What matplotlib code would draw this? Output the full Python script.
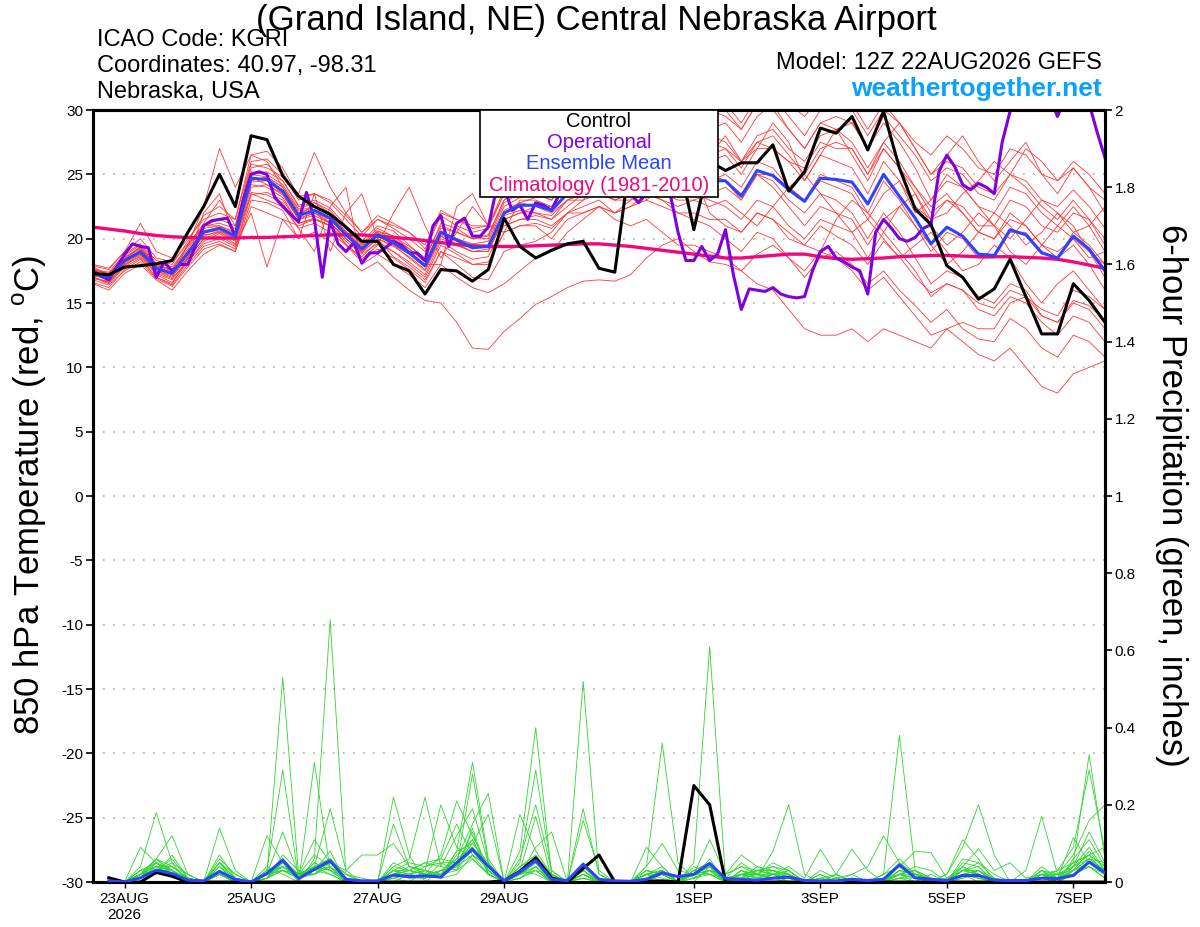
import numpy as np
import matplotlib
matplotlib.use('Agg')
import matplotlib.pyplot as plt
from matplotlib.patches import Rectangle

plt.rcParams['font.family'] = ['Liberation Sans', 'DejaVu Sans']
plt.rcParams['mathtext.fontset'] = 'custom'
plt.rcParams['mathtext.rm'] = 'Liberation Sans'
plt.rcParams['axes.unicode_minus'] = False

# ---------------- data (850 hPa temperature, 6-hourly from 12Z 22AUG) ----------------
control_t = [17.3, 17.2, 17.8, 17.9, 18.05, 18.3, 20.5, 22.5, 25.0, 22.5,
             28.0, 27.7, 24.9, 23.3, 22.5, 21.9, 20.9, 19.8, 19.8, 18.0,
             17.5, 15.7, 17.6, 17.5, 16.7, 17.6, 21.6, 19.4, 18.5, 19.1,
             19.6, 19.8, 17.7, 17.4, 26.5, 27.5, 26.8, 26.3, 20.7, 26.0,
             25.3, 25.9, 25.9, 27.3, 23.7, 25.2, 28.6, 28.2, 29.5, 26.9,
             29.9, 25.5, 22.3, 21.1, 17.9, 17.0, 15.3, 16.1, 18.4, 15.5,
             12.6, 12.6, 16.5, 15.2, 13.5]

ens_mean_t = [17.3, 17.0, 18.3, 19.0, 17.7, 17.3, 18.9, 20.5, 20.8, 20.2,
              24.7, 24.6, 23.7, 21.8, 22.2, 21.6, 20.3, 19.2, 20.3, 19.7,
              18.9, 17.9, 20.5, 19.9, 19.3, 19.4, 22.0, 22.6, 22.6, 22.2,
              23.5, 24.0, 24.5, 24.0, 24.5, 25.0, 24.8, 24.6, 24.6, 24.5,
              24.5, 23.3, 25.3, 24.9, 23.8, 22.9, 24.7, 24.6, 24.4, 22.7,
              25.0, 23.3, 21.6, 19.6, 20.9, 20.2, 18.8, 18.7, 20.7, 20.3,
              18.9, 18.5, 20.2, 19.2, 17.5]

climo_t = [20.9, 20.75, 20.6, 20.4, 20.25, 20.15, 20.1, 20.05, 20.05, 20.05,
           20.1, 20.1, 20.15, 20.2, 20.25, 20.3, 20.3, 20.3, 20.2, 20.1,
           20.0, 19.85, 19.7, 19.55, 19.45, 19.4, 19.4, 19.4, 19.45, 19.5,
           19.55, 19.6, 19.6, 19.5, 19.4, 19.25, 19.1, 18.95, 18.8, 18.65,
           18.5, 18.5, 18.6, 18.7, 18.8, 18.8, 18.6, 18.45, 18.4, 18.45,
           18.5, 18.6, 18.65, 18.7, 18.7, 18.65, 18.6, 18.6, 18.6, 18.55,
           18.5, 18.4, 18.2, 17.95, 17.7]

# operational run, 3-hourly
oper_t = [17.5, 17.1, 16.8, 17.8, 18.8, 19.6, 19.4, 19.3, 17.0, 18.2,
          17.5, 18.0, 18.0, 19.5, 21.0, 21.4, 21.5, 21.6, 20.2, 23.0,
          25.0, 25.2, 25.0, 23.2, 22.5, 21.9, 21.3, 23.6, 21.5, 17.0,
          21.4, 19.6, 19.0, 19.7, 18.1, 18.9, 18.9, 19.3, 19.8, 19.5,
          18.9, 18.9, 18.3, 21.0, 21.8, 19.4, 21.2, 21.6, 20.2, 20.2,
          20.9, 23.8, 24.0, 22.2, 22.6, 21.5, 22.8, 22.6, 22.2, 23.5,
          24.5, 25.0, 24.8, 25.5, 25.2, 24.5, 25.0, 24.0, 23.5, 22.8,
          23.5, 25.0, 25.5, 23.5, 20.5, 18.3, 18.3, 19.4, 18.3, 18.8,
          20.7, 17.2, 14.5, 16.1, 16.0, 15.9, 16.2, 15.7, 15.5, 15.4,
          15.5, 17.5, 19.0, 19.4, 18.5, 18.2, 17.8, 17.5, 15.7, 20.5,
          21.5, 20.8, 20.0, 19.8, 20.1, 20.8, 21.1, 25.2, 26.5, 25.6,
          24.2, 23.8, 24.3, 24.0, 23.5, 27.5, 29.9, 31.5, 32.0, 32.0,
          32.0, 31.0, 29.5, 31.0, 32.0, 32.0, 30.5, 28.3, 26.3]

members_t = [
    [17.8, 17.2, 18.5, 19.3, 18.0, 17.6, 19.5, 21.2, 23.0, 21.0,
     25.5, 25.8, 24.5, 22.6, 23.0, 22.4, 21.0, 19.8, 21.0, 20.6,
     19.5, 18.4, 21.2, 20.8, 20.0, 20.3, 23.0, 23.8, 24.0, 23.5,
     25.0, 23.5, 24.5, 27.0, 26.0, 23.0, 24.0, 26.5, 25.0, 22.0,
     21.0, 20.5, 22.0, 21.5, 20.0, 19.5, 21.0, 20.2, 19.5, 18.0,
     19.8, 18.6, 17.0, 15.8, 16.5, 16.0, 15.0, 14.6, 16.0, 15.5,
     14.0, 13.5, 15.2, 14.8, 13.6],
    [16.5, 16.0, 17.3, 18.0, 16.8, 16.0, 17.5, 18.8, 19.5, 19.0,
     22.5, 22.0, 21.5, 20.0, 20.5, 19.8, 18.5, 17.5, 18.2, 17.0,
     16.0, 15.2, 15.0, 13.5, 11.5, 11.4, 12.8, 13.8, 14.9, 15.5,
     16.2, 16.7, 16.8, 16.7, 17.2, 18.5, 19.5, 20.0, 19.0, 18.2,
     18.0, 17.5, 18.8, 19.5, 18.5, 17.0, 18.5, 19.0, 18.0, 16.5,
     17.5, 16.0, 14.8, 13.5, 14.5, 13.0, 12.2, 12.0, 13.8, 13.0,
     11.5, 10.8, 12.5, 12.0, 10.8],
    [17.0, 16.6, 18.0, 18.8, 17.3, 16.8, 18.4, 20.0, 20.2, 19.5,
     22.0, 17.8, 21.5, 21.0, 21.5, 21.0, 19.5, 18.6, 19.8, 19.0,
     18.0, 17.0, 19.5, 18.8, 18.0, 18.2, 20.5, 21.0, 21.2, 20.8,
     22.0, 22.5, 23.0, 22.0, 22.5, 23.5, 23.0, 22.0, 21.5, 21.0,
     20.0, 19.0, 20.5, 20.0, 18.5, 17.5, 19.0, 18.5, 17.5, 16.0,
     17.0, 15.5, 14.0, 12.5, 13.0, 12.0, 11.0, 10.5, 11.5, 10.0,
     8.5, 8.0, 9.5, 10.0, 10.5],
    [17.5, 17.3, 18.6, 19.2, 17.9, 17.6, 19.2, 21.0, 21.2, 20.8,
     25.2, 25.0, 24.2, 22.3, 22.8, 22.0, 20.8, 19.6, 20.8, 20.2,
     19.4, 18.5, 21.0, 20.5, 20.0, 20.2, 23.0, 24.0, 24.2, 24.0,
     25.5, 26.5, 27.5, 27.0, 28.0, 29.0, 29.5, 30.5, 31.0, 30.0,
     29.5, 28.5, 30.5, 31.0, 29.5, 28.0, 30.0, 31.0, 30.5, 28.5,
     30.5, 29.0, 27.0, 25.0, 26.0, 25.5, 24.0, 23.5, 25.0, 24.5,
     23.0, 22.5, 23.8, 22.5, 20.8],
    [17.2, 16.8, 18.2, 19.0, 17.5, 17.0, 18.6, 20.3, 20.5, 19.8,
     24.5, 24.8, 24.0, 22.0, 22.5, 21.8, 20.5, 19.3, 20.2, 19.5,
     18.5, 17.5, 20.0, 19.5, 19.0, 19.0, 21.5, 22.0, 22.0, 21.5,
     23.0, 23.5, 24.0, 23.0, 23.5, 24.5, 24.0, 25.0, 25.5, 26.5,
     27.0, 25.5, 27.5, 27.0, 26.0, 24.5, 26.5, 26.0, 25.5, 23.5,
     26.0, 24.5, 22.5, 21.5, 22.0, 23.5, 24.5, 26.0, 25.0, 27.0,
     26.0, 24.5, 25.5, 24.0, 23.0],
    [17.0, 16.5, 17.8, 18.5, 17.0, 16.5, 18.5, 22.0, 23.5, 20.0,
     23.5, 23.0, 22.5, 20.8, 21.2, 20.5, 19.5, 18.2, 19.2, 18.5,
     17.6, 16.6, 19.0, 18.0, 17.0, 16.8, 19.0, 19.5, 19.8, 20.5,
     22.0, 23.0, 24.5, 25.5, 27.0, 28.0, 27.5, 26.5, 27.0, 28.5,
     29.0, 27.5, 29.5, 30.5, 28.5, 27.0, 29.0, 28.5, 27.5, 25.5,
     27.5, 26.0, 24.0, 22.5, 23.5, 22.0, 20.5, 20.0, 22.0, 21.0,
     19.5, 18.5, 19.5, 18.0, 16.0],
    [17.6, 17.4, 18.8, 19.6, 18.3, 18.0, 19.8, 21.8, 22.5, 21.5,
     26.0, 26.2, 25.0, 23.0, 23.5, 22.8, 21.5, 20.2, 21.5, 20.8,
     20.0, 19.0, 21.8, 21.0, 20.5, 20.8, 23.5, 24.5, 25.0, 24.0,
     25.5, 26.0, 26.0, 25.0, 25.5, 26.5, 26.0, 25.5, 25.0, 25.0,
     24.5, 23.0, 25.0, 24.0, 22.5, 21.0, 22.5, 22.0, 21.5, 19.5,
     21.5, 22.5, 21.0, 19.5, 18.0, 19.0, 20.5, 22.0, 21.0, 19.5,
     20.5, 22.0, 21.0, 19.0, 18.0],
    [17.4, 17.0, 18.2, 18.8, 17.6, 17.2, 19.5, 22.5, 27.0, 24.0,
     26.5, 26.0, 24.0, 22.0, 22.0, 21.2, 20.0, 19.0, 20.0, 19.5,
     18.8, 17.8, 20.2, 19.5, 19.0, 19.2, 21.5, 22.0, 22.5, 22.5,
     24.0, 24.5, 25.5, 25.0, 26.0, 26.5, 26.0, 27.0, 28.0, 28.0,
     27.5, 26.0, 28.0, 28.5, 27.0, 26.0, 28.0, 28.5, 29.0, 27.0,
     29.5, 28.0, 26.5, 24.5, 25.5, 25.0, 23.5, 23.0, 25.0, 24.0,
     22.5, 21.5, 23.0, 21.5, 19.5],
    [16.8, 16.4, 17.5, 18.2, 16.9, 16.3, 17.8, 19.2, 19.6, 19.0,
     23.0, 22.8, 22.2, 20.0, 23.5, 19.0, 22.0, 23.5, 20.0, 18.6,
     17.8, 16.8, 19.0, 18.5, 18.0, 18.0, 20.5, 21.0, 21.0, 20.0,
     21.5, 22.0, 22.5, 22.0, 22.5, 23.0, 22.5, 22.0, 22.0, 21.5,
     21.5, 20.5, 22.0, 21.5, 20.5, 19.5, 19.0, 21.5, 23.0, 22.0,
     20.5, 22.5, 23.5, 21.0, 19.5, 20.5, 22.0, 21.0, 19.0, 18.0,
     19.5, 21.0, 20.0, 18.5, 19.0],
    [17.9, 17.6, 19.0, 20.0, 18.5, 18.2, 19.6, 21.0, 21.5, 21.0,
     25.8, 25.5, 24.8, 23.5, 26.7, 24.0, 22.0, 20.5, 21.5, 21.0,
     20.5, 19.2, 22.0, 21.5, 20.8, 21.0, 23.5, 24.0, 24.5, 24.5,
     26.0, 27.0, 28.0, 27.5, 28.5, 29.5, 30.5, 31.0, 30.5, 31.0,
     30.0, 28.5, 30.5, 30.0, 28.5, 27.0, 29.0, 29.5, 29.0, 27.0,
     29.0, 27.5, 25.5, 23.0, 24.5, 24.0, 22.5, 22.0, 24.0, 23.5,
     22.0, 21.0, 22.5, 21.0, 19.0],
    [17.1, 16.9, 18.4, 19.3, 17.8, 17.4, 19.0, 20.6, 20.9, 20.3,
     24.8, 24.5, 23.5, 21.5, 22.0, 21.3, 20.0, 19.0, 20.5, 19.8,
     19.0, 18.0, 18.0, 22.5, 23.5, 21.0, 20.5, 23.0, 23.0, 22.5,
     24.0, 24.5, 25.0, 24.5, 25.5, 26.0, 25.5, 25.0, 24.0, 24.5,
     25.0, 24.0, 26.0, 25.5, 24.0, 23.0, 25.0, 24.5, 24.0, 22.0,
     24.5, 23.0, 21.0, 19.0, 20.5, 20.0, 18.5, 18.5, 20.5, 20.5,
     19.0, 18.5, 20.5, 19.5, 18.0],
    [17.3, 17.1, 18.3, 19.1, 17.7, 17.2, 18.7, 20.2, 20.6, 20.0,
     24.2, 24.0, 23.2, 21.2, 21.6, 21.0, 19.8, 18.8, 19.6, 19.0,
     18.2, 17.2, 19.8, 19.0, 18.4, 18.6, 21.0, 21.5, 21.5, 21.0,
     22.0, 22.0, 22.5, 21.5, 21.0, 21.5, 20.5, 19.5, 19.5, 19.0,
     18.5, 17.5, 16.5, 16.0, 14.5, 13.0, 12.5, 12.5, 13.0, 12.0,
     13.0, 12.5, 12.0, 11.5, 13.0, 13.5, 13.0, 13.0, 15.0, 15.5,
     14.5, 14.0, 16.0, 15.5, 14.5],
    [17.7, 17.2, 18.7, 19.5, 18.1, 17.8, 19.4, 21.0, 21.0, 20.5,
     25.0, 25.2, 24.5, 22.5, 22.8, 22.2, 20.8, 19.5, 20.6, 20.0,
     19.2, 18.2, 20.5, 20.0, 19.6, 19.8, 22.5, 23.2, 23.5, 23.0,
     24.5, 25.0, 27.5, 26.0, 24.0, 25.5, 28.0, 27.0, 25.0, 26.5,
     28.0, 26.0, 27.0, 29.0, 27.5, 24.5, 26.5, 28.5, 26.5, 24.5,
     27.0, 25.5, 23.5, 21.5, 23.0, 22.5, 21.0, 21.0, 23.0, 22.5,
     21.0, 20.5, 22.0, 21.5, 20.0],
    [16.9, 16.7, 18.0, 18.6, 17.4, 16.9, 18.2, 19.8, 20.4, 19.6,
     24.0, 24.2, 23.4, 21.5, 21.8, 21.2, 20.0, 18.9, 20.0, 19.4,
     18.6, 17.6, 20.2, 19.6, 19.0, 19.0, 21.8, 22.2, 22.0, 21.8,
     23.0, 23.0, 23.5, 23.0, 23.0, 23.5, 23.0, 22.5, 23.0, 23.5,
     24.0, 23.0, 25.0, 25.0, 24.0, 23.0, 24.5, 24.0, 23.5, 21.5,
     23.5, 24.5, 22.0, 23.0, 25.0, 24.0, 22.5, 21.0, 20.0, 21.5,
     23.0, 22.0, 20.5, 21.0, 22.5],
    [17.0, 16.6, 17.9, 18.7, 17.2, 16.6, 18.2, 19.6, 20.0, 19.4,
     23.6, 23.4, 22.8, 20.8, 19.0, 22.5, 24.0, 18.0, 18.8, 18.0,
     17.2, 16.2, 18.0, 17.0, 16.2, 15.8, 16.5, 17.5, 18.5, 19.0,
     20.5, 21.5, 22.5, 22.0, 23.0, 24.5, 25.0, 26.0, 25.5, 25.0,
     24.5, 23.5, 25.0, 24.5, 23.0, 22.0, 23.5, 23.0, 22.0, 20.0,
     22.0, 20.5, 18.5, 16.5, 17.5, 17.0, 15.5, 15.0, 16.5, 16.0,
     14.0, 13.5, 15.0, 14.5, 13.0],
    [17.5, 17.1, 18.4, 19.0, 17.6, 17.3, 18.8, 20.6, 20.6, 20.1,
     24.8, 24.2, 23.5, 21.9, 22.5, 21.9, 20.6, 19.4, 20.6, 20.2,
     19.2, 18.2, 20.8, 20.5, 20.0, 20.0, 22.8, 23.5, 23.5, 23.0,
     24.5, 25.0, 26.0, 25.5, 26.0, 27.0, 26.5, 26.0, 26.5, 26.0,
     26.5, 25.0, 27.0, 27.0, 26.0, 25.5, 27.5, 27.0, 27.0, 25.0,
     27.5, 29.0, 27.0, 25.0, 26.5, 28.0, 26.0, 24.5, 26.0, 27.5,
     25.0, 23.5, 25.5, 24.0, 22.0],
    [17.2, 16.9, 18.1, 18.9, 17.5, 17.1, 18.5, 20.0, 20.5, 19.9,
     24.4, 24.5, 23.8, 21.6, 22.0, 21.5, 20.2, 19.1, 20.2, 19.6,
     18.8, 17.8, 20.3, 19.8, 19.2, 19.5, 22.0, 22.8, 23.2, 23.5,
     25.0, 26.0, 27.0, 27.5, 28.5, 29.5, 30.5, 31.5, 31.5, 31.0,
     30.5, 29.0, 31.0, 31.5, 30.5, 29.5, 31.0, 30.5, 30.0, 28.0,
     30.0, 29.0, 27.5, 26.5, 28.0, 27.0, 25.5, 25.0, 27.0, 26.5,
     25.0, 24.5, 26.0, 25.0, 23.5],
    [17.6, 17.3, 18.5, 19.4, 17.9, 17.5, 19.0, 20.8, 21.0, 20.4,
     25.0, 24.8, 24.0, 22.2, 22.5, 21.8, 20.4, 19.3, 20.4, 19.9,
     19.0, 18.0, 20.6, 20.0, 19.5, 19.5, 22.2, 22.8, 22.5, 22.0,
     23.0, 23.5, 23.5, 23.0, 23.5, 24.0, 23.5, 23.0, 23.0, 22.5,
     23.0, 22.0, 21.0, 22.5, 24.0, 25.0, 23.5, 22.0, 20.5, 21.5,
     20.0, 18.5, 19.5, 20.5, 19.0, 17.5, 18.0, 19.5, 18.5, 16.5,
     15.0, 16.5, 17.5, 16.0, 14.5],
    [16.6, 16.2, 17.6, 18.4, 17.0, 16.4, 18.0, 19.4, 19.8, 19.2,
     23.4, 23.6, 23.0, 21.2, 21.5, 21.0, 19.6, 18.4, 19.5, 22.0,
     24.0, 21.0, 18.5, 20.5, 22.5, 21.0, 21.0, 21.5, 21.8, 21.5,
     22.5, 23.5, 24.0, 24.0, 25.0, 25.5, 25.5, 26.0, 27.0, 27.5,
     27.0, 26.0, 27.5, 28.0, 26.5, 25.0, 27.0, 27.5, 27.0, 25.0,
     27.0, 25.5, 24.0, 22.0, 23.0, 22.0, 20.5, 20.0, 21.5, 21.0,
     19.5, 19.0, 20.0, 19.0, 17.0],
    [18.0, 17.7, 19.0, 21.2, 19.0, 18.5, 20.0, 21.5, 22.0, 21.5,
     26.5, 26.8, 25.5, 23.3, 23.5, 23.0, 21.8, 20.5, 21.8, 21.2,
     20.5, 19.5, 22.2, 21.5, 21.0, 21.0, 23.8, 24.0, 24.0, 23.5,
     24.5, 25.0, 25.0, 24.5, 24.0, 24.5, 24.0, 23.5, 23.5, 23.0,
     22.5, 21.5, 23.0, 22.5, 21.0, 20.0, 21.5, 21.0, 20.5, 18.5,
     20.5, 19.0, 17.5, 15.5, 16.5, 16.0, 14.5, 14.0, 15.5, 15.0,
     13.5, 12.5, 14.0, 13.5, 12.0],
]

# ---------------- 6-hour precipitation (inches), hours 6..384 ----------------
control_p = [0.011, 0, 0, 0.025, 0.015, 0, 0, 0,
             0, 0, 0, 0, 0, 0, 0, 0,
             0, 0, 0, 0, 0, 0, 0, 0,
             0, 0.003, 0.028, 0.063, 0.011, 0, 0.035, 0.07,
             0, 0, 0.002, 0.003, 0, 0.25, 0.20, 0,
             0, 0, 0, 0, 0, 0, 0, 0,
             0, 0, 0, 0, 0, 0, 0, 0,
             0, 0, 0, 0, 0, 0, 0, 0]

ens_mean_p = [0.003, 0, 0.011, 0.031, 0.022, 0.005, 0.003, 0.027,
              0.007, 0, 0.022, 0.057, 0.009, 0.033, 0.055, 0.007,
              0.003, 0.003, 0.018, 0.014, 0.016, 0.013, 0.05, 0.085,
              0.041, 0.003, 0.026, 0.056, 0.007, 0.004, 0.046, 0.007,
              0.003, 0.002, 0.007, 0.024, 0.014, 0.02, 0.048, 0.009,
              0.007, 0.005, 0.01, 0.013, 0.004, 0.003, 0.003, 0.007,
              0.004, 0.007, 0.045, 0.011, 0.007, 0.004, 0.017, 0.017,
              0.005, 0.004, 0.004, 0.01, 0.009, 0.017, 0.052, 0.024]

members_p = [
    [0, 0, 0.02, 0.04, 0.02, 0, 0, 0.03, 0, 0, 0.02, 0.53, 0.02, 0.04, 0.06, 0,
     0, 0, 0.03, 0.01, 0.02, 0.01, 0.08, 0.31, 0.06, 0, 0.02, 0.05, 0, 0, 0.03, 0,
     0, 0, 0, 0.02, 0, 0.05, 0.61, 0.01, 0.02, 0, 0, 0.01, 0, 0, 0, 0,
     0, 0.01, 0.04, 0.01, 0, 0, 0.02, 0.01, 0, 0, 0, 0, 0, 0.02, 0.05, 0.02],
    [0, 0, 0.01, 0.06, 0.03, 0.01, 0, 0.02, 0, 0, 0.04, 0.02, 0, 0.06, 0.68, 0.02,
     0, 0, 0, 0.02, 0.01, 0.05, 0.03, 0.09, 0.03, 0, 0.08, 0.40, 0.02, 0, 0.01, 0,
     0, 0, 0.03, 0.02, 0, 0, 0.04, 0, 0, 0.03, 0.02, 0, 0, 0.02, 0, 0,
     0, 0, 0.02, 0, 0, 0, 0.04, 0.02, 0, 0, 0, 0.02, 0.01, 0.05, 0.33, 0.06],
    [0, 0, 0.03, 0.02, 0.07, 0.01, 0, 0.05, 0.02, 0, 0.01, 0.05, 0, 0.31, 0.03, 0,
     0, 0, 0.02, 0.01, 0.01, 0.02, 0.05, 0.11, 0.02, 0, 0.03, 0.06, 0.01, 0, 0.52, 0.02,
     0, 0, 0.01, 0, 0, 0.02, 0.02, 0, 0.01, 0, 0.02, 0.01, 0, 0, 0.01, 0,
     0, 0.02, 0.38, 0.03, 0, 0, 0.02, 0, 0, 0, 0, 0.01, 0, 0.03, 0.08, 0.03],
    [0, 0, 0.02, 0.03, 0.03, 0, 0, 0.07, 0.01, 0, 0.03, 0.29, 0.01, 0.03, 0.02, 0,
     0, 0, 0.01, 0, 0.03, 0.01, 0.02, 0.07, 0.04, 0, 0.01, 0.03, 0, 0, 0.05, 0.01,
     0, 0, 0.04, 0.36, 0.05, 0.01, 0.03, 0, 0.03, 0.01, 0.08, 0.20, 0.02, 0, 0, 0.01,
     0, 0, 0.02, 0.01, 0, 0, 0.03, 0.05, 0.01, 0, 0, 0.01, 0, 0.02, 0.04, 0.01],
    [0, 0, 0.04, 0.18, 0.05, 0, 0, 0.02, 0, 0, 0.01, 0.04, 0.02, 0.02, 0.05, 0.01,
     0, 0, 0.22, 0.07, 0, 0.03, 0.04, 0.28, 0.05, 0, 0.03, 0.02, 0, 0, 0.02, 0,
     0, 0, 0.02, 0, 0, 0.01, 0.03, 0.02, 0.04, 0.02, 0.01, 0, 0, 0.01, 0, 0,
     0, 0.02, 0.06, 0.02, 0.01, 0, 0.03, 0.03, 0, 0, 0, 0.03, 0.01, 0.04, 0.07, 0.02],
    [0, 0, 0.01, 0.05, 0.02, 0, 0, 0.14, 0.03, 0, 0.02, 0.06, 0.01, 0.05, 0.03, 0,
     0, 0, 0.04, 0.06, 0.22, 0.04, 0.03, 0.14, 0.02, 0, 0.05, 0.29, 0.03, 0, 0.04, 0,
     0, 0, 0.01, 0.03, 0, 0.03, 0.05, 0, 0.02, 0.03, 0.03, 0.01, 0, 0, 0.02, 0,
     0, 0, 0.02, 0.04, 0.03, 0, 0.01, 0.02, 0, 0, 0, 0.01, 0.03, 0.09, 0.29, 0.08],
    [0, 0, 0.02, 0.06, 0.12, 0.02, 0, 0.04, 0, 0, 0.02, 0.03, 0.02, 0.07, 0.04, 0.01,
     0, 0, 0.01, 0.02, 0.03, 0.20, 0.09, 0.06, 0.02, 0, 0.01, 0.04, 0, 0, 0.02, 0,
     0, 0, 0.02, 0.04, 0, 0.02, 0.03, 0.01, 0.01, 0.04, 0.02, 0.02, 0, 0, 0.01, 0,
     0, 0, 0.03, 0.02, 0, 0.02, 0.09, 0.20, 0.07, 0, 0, 0.02, 0, 0.03, 0.05, 0.02],
    [0, 0, 0.09, 0.05, 0.03, 0, 0, 0.03, 0, 0, 0.01, 0.07, 0.03, 0.02, 0.06, 0.02,
     0.01, 0, 0.02, 0.03, 0.02, 0.07, 0.21, 0.12, 0.04, 0, 0.02, 0.03, 0.02, 0, 0.01, 0,
     0, 0, 0.03, 0.02, 0, 0.04, 0.02, 0, 0.02, 0.02, 0.01, 0.01, 0, 0.02, 0, 0,
     0, 0, 0.01, 0, 0.02, 0, 0.01, 0.03, 0.01, 0, 0.03, 0.17, 0.02, 0.02, 0.04, 0.01],
    [0, 0, 0.02, 0.06, 0.04, 0.01, 0, 0.05, 0.01, 0, 0.02, 0.03, 0.01, 0.04, 0.19, 0.03,
     0, 0, 0.03, 0.02, 0.01, 0.03, 0.06, 0.15, 0.23, 0, 0.06, 0.20, 0.03, 0, 0.02, 0,
     0, 0, 0.02, 0.03, 0, 0.01, 0.06, 0, 0.03, 0.01, 0.02, 0.03, 0, 0, 0, 0.01,
     0, 0, 0.04, 0.01, 0, 0, 0.02, 0.01, 0, 0, 0, 0.02, 0, 0.06, 0.11, 0.04],
    [0, 0, 0.01, 0.03, 0.06, 0.01, 0, 0.06, 0.02, 0, 0.12, 0.05, 0.02, 0.03, 0.08, 0,
     0, 0, 0.15, 0.04, 0.03, 0.02, 0.04, 0.09, 0.03, 0, 0.04, 0.06, 0.01, 0, 0.19, 0.02,
     0, 0, 0.01, 0.02, 0, 0.03, 0.02, 0, 0.02, 0.01, 0.03, 0.02, 0, 0.01, 0, 0.02,
     0, 0, 0.03, 0.02, 0, 0, 0.05, 0.04, 0, 0, 0, 0.04, 0.01, 0.03, 0.06, 0.03],
    [0, 0, 0.03, 0.05, 0.02, 0, 0, 0.04, 0, 0, 0.03, 0.04, 0.01, 0.05, 0.03, 0.01,
     0, 0, 0.02, 0.03, 0.05, 0.04, 0.12, 0.19, 0.05, 0, 0.175, 0.08, 0.02, 0, 0.03, 0,
     0, 0, 0.02, 0.01, 0, 0.02, 0.04, 0.01, 0.01, 0.02, 0.04, 0.03, 0, 0, 0.01, 0,
     0, 0.01, 0.02, 0.02, 0.01, 0, 0.03, 0.02, 0, 0, 0, 0.02, 0.02, 0.07, 0.16, 0.20],
    [0, 0, 0.02, 0.04, 0.04, 0.01, 0, 0.02, 0, 0, 0.02, 0.13, 0.02, 0.03, 0.04, 0,
     0, 0, 0.05, 0.03, 0.02, 0.02, 0.08, 0.10, 0.175, 0, 0.03, 0.17, 0.01, 0, 0.03, 0,
     0, 0, 0.02, 0.02, 0, 0.02, 0.03, 0, 0.03, 0.02, 0.02, 0.01, 0, 0.01, 0.02, 0,
     0, 0, 0.02, 0.03, 0.01, 0, 0.04, 0.02, 0, 0, 0, 0.01, 0.02, 0.04, 0.06, 0.03],
    [0, 0, 0.01, 0.03, 0.05, 0.02, 0, 0.05, 0.01, 0, 0.01, 0.06, 0.02, 0.11, 0.05, 0.02,
     0, 0, 0.03, 0.05, 0.04, 0.06, 0.05, 0.08, 0.03, 0, 0.02, 0.09, 0.13, 0, 0.04, 0.01,
     0, 0, 0.02, 0.03, 0, 0.02, 0.04, 0, 0.02, 0.03, 0.03, 0.02, 0, 0, 0, 0,
     0, 0, 0.03, 0.02, 0, 0, 0.02, 0.01, 0, 0, 0, 0.02, 0.01, 0.115, 0.05, 0.02],
    [0, 0, 0.02, 0.05, 0.03, 0.01, 0, 0.03, 0, 0, 0.02, 0.04, 0.01, 0.03, 0.06, 0.01,
     0, 0, 0.04, 0.03, 0.02, 0.03, 0.04, 0.13, 0.02, 0, 0.04, 0.07, 0.02, 0, 0.16, 0.03,
     0, 0, 0.01, 0.02, 0, 0.03, 0.05, 0, 0.02, 0.02, 0.01, 0.03, 0, 0.03, 0.01, 0.02,
     0.04, 0.12, 0.05, 0.02, 0, 0, 0.02, 0.03, 0, 0, 0, 0.03, 0.02, 0.04, 0.13, 0.05],
    [0, 0, 0.02, 0.03, 0.02, 0, 0, 0.02, 0, 0, 0.01, 0.03, 0.02, 0.02, 0.04, 0,
     0, 0, 0.02, 0.02, 0.03, 0.02, 0.03, 0.06, 0.02, 0, 0.02, 0.04, 0, 0, 0.02, 0,
     0, 0, 0.04, 0.10, 0.03, 0.02, 0.11, 0.02, 0.04, 0.03, 0.02, 0.01, 0, 0, 0.01, 0,
     0, 0, 0.02, 0.03, 0.01, 0, 0.03, 0.04, 0, 0, 0, 0.02, 0.01, 0.05, 0.07, 0.04],
    [0, 0, 0.03, 0.04, 0.02, 0.01, 0, 0.03, 0, 0, 0.02, 0.05, 0.02, 0.04, 0.03, 0.01,
     0, 0, 0.03, 0.03, 0.05, 0.06, 0.15, 0.07, 0.04, 0, 0.02, 0.05, 0.01, 0, 0.03, 0,
     0, 0, 0.09, 0.04, 0, 0.01, 0.02, 0.01, 0.05, 0.02, 0.01, 0.02, 0, 0.01, 0, 0,
     0, 0, 0.01, 0.02, 0.01, 0, 0.06, 0.05, 0.02, 0, 0, 0.03, 0, 0.03, 0.04, 0.02],
    [0, 0, 0.02, 0.03, 0.04, 0.02, 0, 0.02, 0, 0, 0.03, 0.05, 0.02, 0.03, 0.05, 0.03,
     0.07, 0.07, 0.10, 0.04, 0.02, 0.02, 0.06, 0.09, 0.03, 0, 0.02, 0.04, 0, 0, 0.02, 0,
     0, 0, 0.02, 0.03, 0, 0.02, 0.03, 0.02, 0.07, 0.04, 0.03, 0.01, 0, 0, 0.02, 0,
     0, 0, 0.02, 0.01, 0, 0, 0.02, 0.03, 0, 0, 0, 0.01, 0.02, 0.03, 0.06, 0.05],
    [0, 0, 0.01, 0.04, 0.03, 0, 0, 0.04, 0.01, 0, 0.02, 0.03, 0.01, 0.04, 0.02, 0,
     0, 0, 0.02, 0.04, 0.03, 0.01, 0.07, 0.11, 0.03, 0, 0.03, 0.05, 0.02, 0, 0.02, 0,
     0, 0, 0.03, 0.02, 0, 0.02, 0.04, 0, 0.02, 0.01, 0.02, 0.04, 0.01, 0.085, 0.02, 0.085,
     0.03, 0, 0.02, 0.03, 0, 0.02, 0.11, 0.06, 0, 0, 0, 0.02, 0, 0.04, 0.09, 0.03],
    [0, 0, 0.02, 0.06, 0.02, 0, 0, 0.05, 0, 0, 0.02, 0.04, 0.02, 0.04, 0.06, 0.01,
     0, 0, 0.03, 0.02, 0.04, 0.05, 0.05, 0.10, 0.05, 0, 0.02, 0.06, 0.01, 0, 0.03, 0,
     0, 0, 0.02, 0.03, 0, 0.03, 0.05, 0.01, 0.02, 0.02, 0.05, 0.03, 0, 0, 0, 0.01,
     0, 0.02, 0.04, 0.08, 0.076, 0.01, 0.03, 0.02, 0, 0, 0, 0.02, 0.03, 0.05, 0.07, 0.09],
    [0, 0, 0.01, 0.03, 0.02, 0.01, 0, 0.02, 0, 0, 0.01, 0.03, 0.01, 0.02, 0.04, 0.01,
     0, 0, 0.01, 0.02, 0.01, 0.03, 0.04, 0.07, 0.02, 0, 0.01, 0.03, 0, 0, 0.01, 0,
     0, 0, 0.01, 0.02, 0, 0.02, 0.03, 0, 0.01, 0.03, 0.04, 0.02, 0, 0, 0, 0,
     0, 0, 0.01, 0.01, 0, 0.01, 0.04, 0.086, 0.03, 0.05, 0.01, 0.02, 0, 0.02, 0.05, 0.03],
]

tick_hours = [12, 60, 108, 156, 228, 276, 324, 372]
tick_labels = ['23AUG\n2026', '25AUG', '27AUG', '29AUG', '1SEP', '3SEP', '5SEP', '7SEP']

# ---------------- plot ----------------
fig = plt.figure(figsize=(12, 9.27), dpi=100)
ax = fig.add_axes([0.0775, 0.0485, 0.8433, 0.8328])

t_hours = np.arange(len(control_t)) * 6
op_hours = np.arange(len(oper_t)) * 3

for v in range(-25, 30, 5):
    ax.axhline(v, color='#b0b0b0', lw=1.2, ls=(0, (1, 5)), zorder=1)

for m in members_t:
    ax.plot(np.arange(len(m)) * 6, m, color='#ff3838', lw=0.6, zorder=2)
ax.plot(t_hours, climo_t, color='#f0087c', lw=2.4, zorder=4)
ax.plot(op_hours, oper_t, color='#8000e0', lw=2.2, zorder=5)
ax.plot(t_hours, ens_mean_t, color='#2a44ff', lw=2.2, zorder=6)
ax.plot(t_hours, control_t, color='black', lw=2.2, zorder=7)

ax.set_xlim(0, 384)
ax.set_ylim(-30, 30)
ax.set_yticks(range(-30, 31, 5))
ax.set_xticks(tick_hours)
ax.set_xticklabels(tick_labels)
ax.tick_params(axis='y', direction='out', length=5, width=1.2, labelsize=11, pad=2)
ax.tick_params(axis='x', direction='out', length=4, width=1.0, labelsize=11, pad=3)
for s in ax.spines.values():
    s.set_linewidth(2.2)

ax2 = ax.twinx()
for p in members_p:
    ax2.plot(np.arange(1, len(p) + 1) * 6, p, color='#2ed62e', lw=0.6, zorder=2)
ax2.plot(np.arange(1, len(ens_mean_p) + 1) * 6, ens_mean_p, color='#2a44ff', lw=2.2, zorder=4)
ax2.plot(np.arange(1, len(control_p) + 1) * 6, control_p, color='black', lw=2.2, zorder=3)
ax2.set_ylim(0, 2)
ax2.set_xlim(0, 384)
p_ticks = [round(0.2 * i, 1) for i in range(11)]
ax2.set_yticks(p_ticks)
ax2.set_yticklabels([f'{v:g}' for v in p_ticks])
ax2.tick_params(axis='y', direction='out', length=5, width=1.2, labelsize=11, pad=2)
for s in ax2.spines.values():
    s.set_linewidth(2.2)

# text legend box
ax2.add_patch(Rectangle((0.3824, 0.8873), 0.2352, 0.1127, transform=ax2.transAxes,
                        facecolor='white', edgecolor='black', lw=1.2, zorder=20, clip_on=False))
leg = [('Control', 'black', 0.9857), ('Operational', '#8000e0', 0.9585),
       ('Ensemble Mean', '#2a44ff', 0.9313), ('Climatology (1981-2010)', '#f0087c', 0.9028)]
for txt, col, yy in leg:
    ax2.text(0.5, yy, txt, color=col, ha='center', va='center', fontsize=14.5,
             transform=ax2.transAxes, zorder=21)

# titles and labels
fig.text(0.497, 0.978, '(Grand Island, NE) Central Nebraska Airport', ha='center', va='center', fontsize=25)
fig.text(0.081, 0.957, 'ICAO Code: KGRI', ha='left', va='center', fontsize=17)
fig.text(0.081, 0.929, 'Coordinates: 40.97, -98.31', ha='left', va='center', fontsize=17)
fig.text(0.081, 0.901, 'Nebraska, USA', ha='left', va='center', fontsize=17)
fig.text(0.918, 0.932, 'Model: 12Z 22AUG2026 GEFS', ha='right', va='center', fontsize=17)
fig.text(0.918, 0.904, 'weathertogether.net', ha='right', va='center', fontsize=19,
         fontweight='bold', color='#0aa0ff')
fig.text(0.025, 0.466, r'850 hPa Temperature (red, $^{\mathrm{o}}$C)', rotation=90,
         ha='center', va='center', fontsize=25)
fig.text(0.976, 0.466, '6-hour Precipitation (green, inches)', rotation=270,
         ha='center', va='center', fontsize=25)

fig.savefig('out.png', dpi=100)
